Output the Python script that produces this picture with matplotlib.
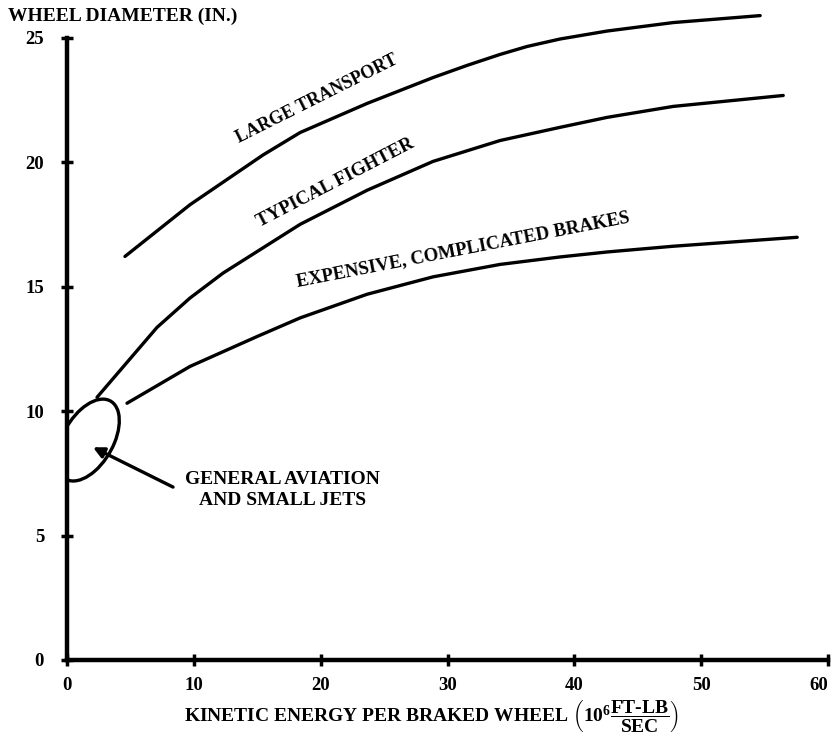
import matplotlib
matplotlib.use("Agg")
import matplotlib.pyplot as plt
from matplotlib.patches import Ellipse

plt.rcParams['font.family'] = ['Liberation Serif', 'DejaVu Serif']
plt.rcParams['font.weight'] = 'bold'
plt.rcParams['mathtext.fontset'] = 'custom'
plt.rcParams['mathtext.rm'] = 'Liberation Serif:bold'
plt.rcParams['mathtext.it'] = 'Liberation Serif:bold'
plt.rcParams['mathtext.bf'] = 'Liberation Serif:bold'

# curves (kinetic energy, wheel diameter)
transport_x = [4.57, 9.70, 15.46, 18.38, 23.66, 28.86, 31.55, 34.15, 36.28, 38.88, 42.59, 47.79, 54.65]
transport_y = [16.22, 18.30, 20.30, 21.20, 22.37, 23.41, 23.90, 24.34, 24.66, 24.96, 25.28, 25.62, 25.90]

fighter_x = [2.37, 7.10, 9.70, 12.30, 18.38, 23.66, 28.86, 34.15, 38.88, 42.59, 47.79, 56.47]
fighter_y = [10.56, 13.37, 14.55, 15.55, 17.51, 18.88, 20.04, 20.88, 21.41, 21.81, 22.25, 22.69]

brakes_x = [4.73, 9.70, 14.98, 18.38, 23.66, 28.86, 34.15, 38.88, 42.59, 47.79, 57.57]
brakes_y = [10.32, 11.80, 13.00, 13.75, 14.70, 15.40, 15.90, 16.20, 16.40, 16.63, 16.99]

xticks = [0, 10, 20, 30, 40, 50, 60]
yticks = [0, 5, 10, 15, 20, 25]

fig = plt.figure(figsize=(8.32, 7.36), dpi=100)
ax = fig.add_axes([67 / 832, 76 / 736, 761 / 832, 622 / 736])

lw = 2.4
for xs, ys in [(transport_x, transport_y), (fighter_x, fighter_y), (brakes_x, brakes_y)]:
    ax.plot(xs, ys, color='black', lw=lw, solid_capstyle='round',
            solid_joinstyle='round', clip_on=False)

# general aviation loop
ax.add_patch(Ellipse((1.66, 8.84), 5.27, 2.71, angle=24.4, fill=False,
                     lw=lw, color='black'))
ax.annotate('', xy=(2.05, 8.55), xytext=(8.36, 6.95),
            arrowprops=dict(arrowstyle='-|>', color='black', lw=2.4,
                            mutation_scale=16, shrinkA=0, shrinkB=0))
ax.text(17.0, 6.83, 'GENERAL AVIATION\nAND SMALL JETS', ha='center', va='center',
        fontsize=14, linespacing=1.3)

ax.text(19.87, 22.39, 'LARGE TRANSPORT', rotation=26.6, rotation_mode='anchor',
        ha='center', va='baseline', fontsize=13)
ax.text(21.29, 19.02, 'TYPICAL FIGHTER', rotation=27.4, rotation_mode='anchor',
        ha='center', va='baseline', fontsize=13.5)
ax.text(31.27, 16.33, 'EXPENSIVE, COMPLICATED BRAKES', rotation=11,
        rotation_mode='anchor', ha='center', va='baseline', fontsize=13.5)

ax.set_xlim(0, 60)
ax.set_ylim(0, 25)
ax.set_xticks(xticks)
ax.set_yticks(yticks)
ax.get_xticklabels()[-1].set_horizontalalignment('right')
for s in ['top', 'right']:
    ax.spines[s].set_visible(False)
for s in ['left', 'bottom']:
    ax.spines[s].set_linewidth(3.2)
ax.tick_params(direction='inout', length=9, width=2.5, labelsize=13.5)
ax.tick_params(axis='y', pad=12)
ax.tick_params(axis='x', pad=8)

fig.text(8 / 832, 1 - 16 / 736, 'WHEEL DIAMETER (IN.)', ha='left', va='center',
         fontsize=14)
fig.text(432 / 832, 1 / 736,
         r'KINETIC ENERGY PER BRAKED WHEEL $\left(10^6\dfrac{FT\text{-}LB}{SEC}\right)$',
         ha='center', va='bottom', fontsize=14)

fig.savefig('out.png', dpi=100)
